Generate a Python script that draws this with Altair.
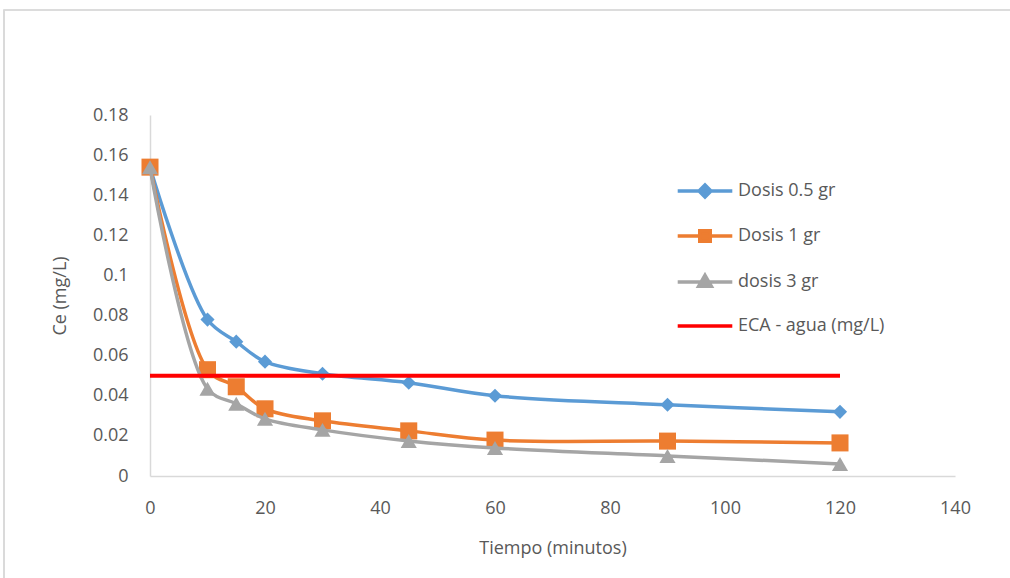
import altair as alt
import pandas as pd

tiempo = [0, 10, 15, 20, 30, 45, 60, 90, 120]
dosis_05 = [0.154, 0.078, 0.067, 0.057, 0.051, 0.0465, 0.040, 0.0355, 0.032]
dosis_1 = [0.154, 0.053, 0.0445, 0.0335, 0.0275, 0.0225, 0.0179, 0.0174, 0.0165]
dosis_3 = [0.154, 0.0435, 0.036, 0.0285, 0.023, 0.0175, 0.014, 0.010, 0.006]
eca_x = [0, 120]
eca_y = [0.05, 0.05]

series_names = ["Dosis 0.5 gr", "Dosis 1 gr", "dosis 3 gr", "ECA - agua (mg/L)"]
colors = ["#5B9BD5", "#ED7D31", "#A5A5A5", "#FF0000"]
shapes = ["diamond", "square", "triangle-up"]
marker_sizes = [200, 290, 260]

# legend symbols: a stroke with marker in the middle (custom paths in [-1,1] units)
legend_paths = [
    "M-3.9,0H3.9M0,-0.85L0.85,0L0,0.85L-0.85,0Z",
    "M-3.9,0H3.9M-0.75,-0.75H0.75V0.75H-0.75Z",
    "M-3.9,0H3.9M0,-0.95L0.9,0.6L-0.9,0.6Z",
    "M-3.9,0H3.9M0,-0.85M0,0.85",
]

rows = []
for name, vals in zip(series_names[:3], [dosis_05, dosis_1, dosis_3]):
    for t, v in zip(tiempo, vals):
        rows.append({"series": name, "t": t, "ce": v})
df = pd.DataFrame(rows)
eca = pd.DataFrame({"series": series_names[3], "t": eca_x, "ce": eca_y})
leg = pd.DataFrame({"series": series_names, "t": [0] * 4, "ce": [0.05] * 4})

FONT = "Open Sans"
TXT = "#595959"

xscale = alt.Scale(domain=[0, 140], nice=False)
yscale = alt.Scale(domain=[0, 0.18], nice=False)

xaxis = alt.Axis(title="Tiempo (minutos)", values=list(range(0, 141, 20)), grid=False,
                 ticks=False, domainColor="#D9D9D9", domainWidth=1.5, labelPadding=23,
                 titlePadding=22, labelFont=FONT, labelFontSize=18, labelColor=TXT,
                 labelFlush=False,
                 titleFont=FONT, titleFontSize=18, titleColor=TXT, titleFontWeight="normal")
yaxis = alt.Axis(title="Ce (mg/L)", values=[i * 0.02 for i in range(10)], format="~g",
                 grid=False, ticks=False, domainColor="#D9D9D9", domainWidth=1.5,
                 labelPadding=22, titlePadding=23, labelFont=FONT, labelFontSize=18,
                 labelColor=TXT, labelFlush=False, titleFont=FONT, titleFontSize=18,
                 titleColor=TXT, titleFontWeight="normal")

base_x = alt.X("t:Q", scale=xscale, axis=xaxis)
base_y = alt.Y("ce:Q", scale=yscale, axis=yaxis)

layers = []

border = alt.Chart(leg).mark_rect(fill=None, stroke="#D9D9D9", strokeWidth=1.2).encode(
    x=alt.value(-146), x2=alt.value(900), y=alt.value(-105), y2=alt.value(500)
)
layers.append(border)

for i, name in enumerate(series_names[:3]):
    d = df[df["series"] == name]
    line = alt.Chart(d).mark_line(interpolate="catmull-rom", color=colors[i], strokeWidth=3.5).encode(
        x=base_x, y=base_y
    )
    pts = alt.Chart(d).mark_point(shape=shapes[i], filled=True, opacity=1, color=colors[i],
                                  size=marker_sizes[i]).encode(x=base_x, y=base_y)
    layers += [line, pts]

eca_line = alt.Chart(eca).mark_line(color=colors[3], strokeWidth=4).encode(x=base_x, y=base_y)
layers.append(eca_line)

legend = alt.Legend(title=None, orient="none", legendX=546, legendY=67,
                    labelFontSize=18, labelColor=TXT, labelFont=FONT,
                    labelOffset=24, rowPadding=19, symbolStrokeWidth=3.5,
                    symbolSize=196, symbolOpacity=1, labelLimit=400)
leg_layer = alt.Chart(leg).mark_point(filled=True, size=196, opacity=0).encode(
    x=base_x, y=base_y,
    shape=alt.Shape("series:N", scale=alt.Scale(domain=series_names, range=legend_paths),
                    legend=legend, sort=series_names),
    fill=alt.Fill("series:N", scale=alt.Scale(domain=series_names, range=colors),
                  legend=legend, sort=series_names),
    stroke=alt.Stroke("series:N", scale=alt.Scale(domain=series_names, range=colors),
                      legend=legend, sort=series_names),
)
layers.append(leg_layer)

chart = alt.layer(*layers).properties(
    width=805, height=361,
    autosize=alt.AutoSizeParams(type="none"),
    padding={"left": 150, "top": 115, "right": 55, "bottom": 102},
    background="white",
).configure_view(stroke=None)

chart.save("out.html", embed_options={"renderer": "svg", "actions": False})
